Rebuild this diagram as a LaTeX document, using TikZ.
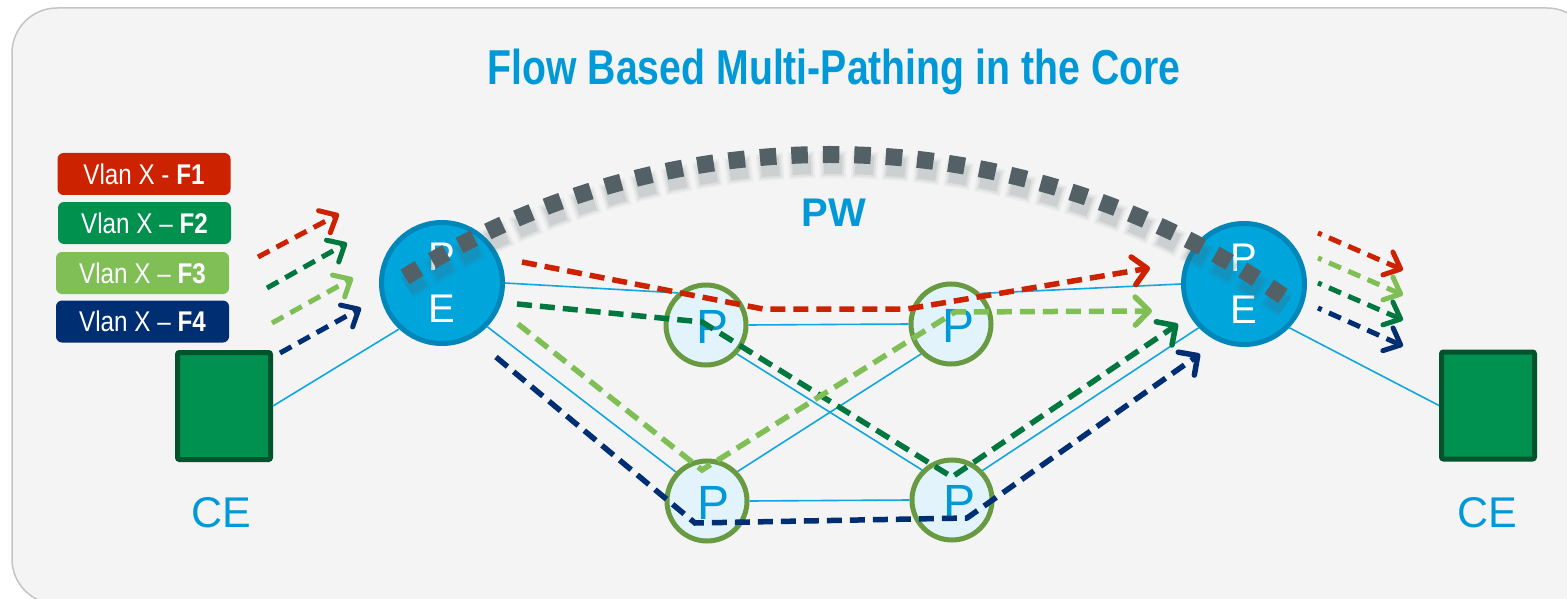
\documentclass[tikz,border=0pt]{standalone}
\usepackage{fontspec}
\setmainfont{Liberation Sans}
\newfontfamily\narrowfont[FakeStretch=0.80]{Liberation Sans}
\newfontfamily\legendfont[FakeStretch=0.85]{Liberation Sans}
\usetikzlibrary{arrows.meta}

\definecolor{bgfill}{HTML}{F4F4F4}
\definecolor{bgline}{HTML}{C4C4C4}
\definecolor{titleblue}{HTML}{0099D8}
\definecolor{linkblue}{HTML}{12A6DE}
\definecolor{pefill}{HTML}{00A5DC}
\definecolor{peline}{HTML}{0086B8}
\definecolor{pfill}{HTML}{E3F3FB}
\definecolor{pline}{HTML}{689A42}
\definecolor{cefill}{HTML}{009050}
\definecolor{celine}{HTML}{00532A}
\definecolor{fred}{HTML}{CC2200}
\definecolor{fdgreen}{HTML}{00773F}
\definecolor{flgreen}{HTML}{80BF55}
\definecolor{fnavy}{HTML}{002E73}
\definecolor{legdgreen}{HTML}{00914F}
\definecolor{pwgray}{HTML}{536166}

\begin{document}
\begin{tikzpicture}[x=1pt,y=-1pt,
  legendbox/.style={draw=none, fill=#1, rounded corners=6, minimum width=173,
    minimum height=42, inner sep=0, text=white,
    font=\legendfont\fontsize{28.5}{30}\selectfont},
  cebox/.style={draw=celine, fill=cefill, line width=5, rounded corners=2,
    minimum width=93, minimum height=107, inner sep=0},
  celabel/.style={text=titleblue, font=\fontsize{43}{48}\selectfont, inner sep=0},
  penode/.style={circle, draw=peline, fill=pefill, line width=5, minimum size=121,
    inner sep=0, text=white, align=center, font=\fontsize{40}{52}\selectfont},
  pnode/.style={circle, draw=pline, fill=pfill, line width=5, minimum size=80,
    inner sep=0},
  plabel/.style={text=titleblue, inner sep=0, font=\fontsize{48}{50}\selectfont},
  link/.style={draw=linkblue, line width=1.6},
  flow/.style={draw=#1, line width=5.5, dash pattern=on 15 off 8,
    -{Straight Barb[length=14, width=28, round]}},
  inflow/.style={draw=#1, line width=5, dash pattern=on 13 off 8,
    -{Straight Barb[length=14, width=25, round]}},
  pwdots/.style={draw=pwgray, line width=17, dash pattern=on 16.5 off 15},
]
\useasboundingbox (0,0) rectangle (1567,599);
\clip (0,0) rectangle (1567,599);
\fill[white] (0,0) rectangle (1567,599);
\draw[bgline, fill=bgfill, line width=1.5, rounded corners=45] (12,8) rectangle (1592,604);

% title
\node[anchor=base, text=titleblue, inner sep=0,
  font=\narrowfont\bfseries\fontsize{49}{55}\selectfont] (title) at (834,85)
  {Flow Based Multi-Pathing in the Core};

% legend
\node[legendbox=fred] (leg1) at (144,174) {Vlan X - \textbf{F1}};
\node[legendbox=legdgreen] (leg2) at (144.5,223) {Vlan X – \textbf{F2}};
\node[legendbox=flgreen] (leg3) at (142.5,273) {Vlan X – \textbf{F3}};
\node[legendbox=fnavy] (leg4) at (142.5,321.5) {Vlan X – \textbf{F4}};

% customer edge routers
\node[cebox] (ceL) at (224,406) {};
\node[cebox] (ceR) at (1488,405.5) {};
\node[celabel] (ceLlbl) at (221,513) {CE};
\node[celabel] (ceRlbl) at (1487,513) {CE};

% provider edge and core routers
\node[penode] (peL) at (442,283) {P\\E};
\node[penode] (peR) at (1244,284) {P\\E};
\node[pnode] (p1) at (706,325) {};
\node[pnode] (p2) at (951,324) {};
\node[pnode] (p3) at (707,501) {};
\node[pnode] (p4) at (952,500) {};
\node[plabel] (p1lbl) at (713,327) {P};
\node[plabel] (p2lbl) at (958,326) {P};
\node[plabel] (p3lbl) at (714,503) {P};
\node[plabel] (p4lbl) at (959,502) {P};

% physical links
\draw[link] (ceL.east) -- (peL.227);
\draw[link] (peL.0) -- (p1.131);
\draw[link] (peL.-44) -- (p3.137);
\draw[link] (p1.east) -- (p2.west);
\draw[link] (p1.-43) -- (p4.135);
\draw[link] (p3.44) -- (p2.225);
\draw[link] (p3.east) -- (p4.west);
\draw[link] (p2.46) -- (peR.180);
\draw[link] (p4.44) -- (peR.224);
\draw[link] (peR.-44) -- (ceR.west);

% PW label
\node[text=titleblue, inner sep=0, font=\bfseries\fontsize{40}{44}\selectfont] (pwlbl) at (834,213) {PW};

% incoming flows
\coordinate (inR0) at (258,257);  \coordinate (inR1) at (339,214);
\coordinate (inD0) at (267,288);  \coordinate (inD1) at (347,243);
\coordinate (inL0) at (272,323);  \coordinate (inL1) at (353,278);
\coordinate (inN0) at (280,353);  \coordinate (inN1) at (361,308);
\draw[inflow=fred] (inR0) -- (inR1);
\draw[inflow=fdgreen] (inD0) -- (inD1);
\draw[inflow=flgreen] (inL0) -- (inL1);
\draw[inflow=fnavy] (inN0) -- (inN1);

% outgoing flows
\coordinate (outR0) at (1318,233); \coordinate (outR1) at (1403,270);
\coordinate (outL0) at (1318,258); \coordinate (outL1) at (1403,295);
\coordinate (outD0) at (1318,283); \coordinate (outD1) at (1403,320);
\coordinate (outN0) at (1318,308); \coordinate (outN1) at (1403,346);
\draw[inflow=fred, dash phase=9] (outR0) -- (outR1);
\draw[inflow=flgreen, dash phase=9] (outL0) -- (outL1);
\draw[inflow=fdgreen, dash phase=9] (outD0) -- (outD1);
\draw[inflow=fnavy, dash phase=9] (outN0) -- (outN1);

% per-flow paths through the core
\coordinate (fR0) at (522,262); \coordinate (fR1) at (763,309);
\coordinate (fR2) at (907,309); \coordinate (fR3) at (1150,268);
\coordinate (fD0) at (517,304); \coordinate (fD1) at (702,322);
\coordinate (fD2) at (952,477); \coordinate (fD3) at (1178,324);
\coordinate (fL0) at (518,324); \coordinate (fL1) at (702,470);
\coordinate (fL2) at (955,312); \coordinate (fL3) at (1152,311);
\coordinate (fN0) at (496,357); \coordinate (fN1) at (695,523);
\coordinate (fN2) at (967,518); \coordinate (fN3) at (1200,354);
\draw[flow=fred] (fR0) -- (fR1) -- (fR2) -- (fR3);
\draw[flow=fdgreen] (fD0) -- (fD1) -- (fD2) -- (fD3);
\draw[flow=flgreen] (fL0) -- (fL1) -- (fL2) -- (fL3);
\draw[flow=fnavy] (fN0) -- (fN1) -- (fN2) -- (fN3);

% pseudowire between the PE routers, with its soft shadow
\coordinate (pwL) at (405,277);
\draw[pwgray, opacity=0.06, line width=27, dash pattern=on 26.5 off 5, dash phase=5]
  ([shift={(2,10)}]pwL) arc[start angle=-122.2, end angle=-55.3, radius=796.7];
\draw[pwgray, opacity=0.08, line width=23, dash pattern=on 22.5 off 9, dash phase=3]
  ([shift={(2,10)}]pwL) arc[start angle=-122.2, end angle=-55.3, radius=796.7];
\draw[pwgray, opacity=0.12, line width=19, dash pattern=on 18.5 off 13, dash phase=1]
  ([shift={(2,10)}]pwL) arc[start angle=-122.2, end angle=-55.3, radius=796.7];
\draw[pwdots] (pwL) arc[start angle=-122.2, end angle=-55.3, radius=796.7];
\end{tikzpicture}
\end{document}
